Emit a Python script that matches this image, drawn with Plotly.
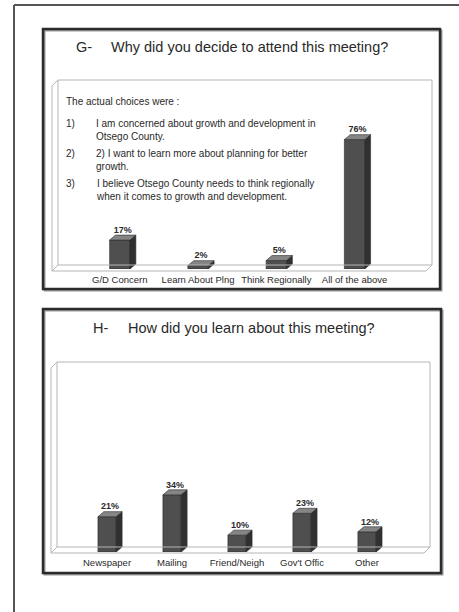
import plotly.graph_objects as go

# ---- data -----------------------------------------------------------------
g_categories = ["G/D Concern", "Learn About Plng", "Think Regionally", "All of the above"]
g_values = [17, 2, 5, 76]

h_categories = ["Newspaper", "Mailing", "Friend/Neigh", "Gov't Offic", "Other"]
h_values = [21, 34, 10, 23, 12]

g_label, g_question = "G-", "Why did you decide to attend this meeting?"
h_label, h_question = "H-", "How did you learn about this meeting?"

choices_header = "The actual choices were :"
choice_numbers = ["1)", "2)", "3)"]
choice_lines = [
    "I am concerned about growth and development in<br>Otsego County.",
    "2) I want to learn more about planning for better<br>growth.",
    "I believe Otsego County needs to think regionally<br>when it comes to growth and development.",
]

# ---- page geometry helpers (pixel -> paper) ------------------------------
W, H = 459, 612
FONT = "Liberation Sans, Arial, sans-serif"
TXT = "#2a2a2a"


def px(x):
    return x / W


def py(y):
    return 1 - y / H


FRONT = "#4f4f4f"
SIDE = "#303030"
TOP = "#858585"

fig = go.Figure()


def add_3d_bars(cats, vals, xa, ya, width, dx, dy):
    idx = list(range(len(cats)))
    fig.add_trace(go.Bar(
        x=idx, y=vals, width=width, xaxis=xa, yaxis=ya,
        marker=dict(color=FRONT, line=dict(color="#2a2a2a", width=0.6)),
        hoverinfo="skip", showlegend=False))
    tx, ty, sx, sy = [], [], [], []
    for i, v in zip(idx, vals):
        l, r = i - width / 2, i + width / 2
        tx += [l, r, r + dx, l + dx, l, None]
        ty += [v, v, v + dy, v + dy, v, None]
        sx += [r, r + dx, r + dx, r, r, None]
        sy += [0, dy, v + dy, v, 0, None]
    fig.add_trace(go.Scatter(x=sx, y=sy, fill="toself", fillcolor=SIDE, mode="lines",
                             line=dict(color="#2a2a2a", width=0.6), xaxis=xa, yaxis=ya,
                             hoverinfo="skip", showlegend=False))
    fig.add_trace(go.Scatter(x=tx, y=ty, fill="toself", fillcolor=TOP, mode="lines",
                             line=dict(color="#2a2a2a", width=0.6), xaxis=xa, yaxis=ya,
                             hoverinfo="skip", showlegend=False))
    fig.add_trace(go.Scatter(
        x=[i + dx / 2 for i in idx], y=[v + dy for v in vals],
        mode="text", text=[f"<b>{v}%</b>" for v in vals], textposition="top center",
        textfont=dict(family=FONT, size=9, color=TXT),
        xaxis=xa, yaxis=ya, hoverinfo="skip", showlegend=False, cliponaxis=False))


add_3d_bars(g_categories, g_values, "x", "y", 0.26, 0.075, 2.9)
add_3d_bars(h_categories, h_values, "x2", "y2", 0.28, 0.092, 3.0)

axis_common = dict(showgrid=False, zeroline=False, showline=False, ticks="")
tickfont = dict(family=FONT, size=9.5, color=TXT)
fig.update_layout(
    width=W, height=H, margin=dict(l=0, r=0, t=0, b=0),
    paper_bgcolor="white", plot_bgcolor="rgba(0,0,0,0)",
    xaxis=dict(domain=[px(58), px(432)], range=[-0.79, 3.99],
               tickvals=list(range(len(g_categories))), ticktext=g_categories,
               tickfont=tickfont, ticklabelstandoff=3, **axis_common),
    yaxis=dict(domain=[py(269), py(80)], range=[0, 111], showticklabels=False, **axis_common),
    xaxis2=dict(domain=[px(57), px(430)], range=[-0.77, 4.97], anchor="y2",
                tickvals=list(range(len(h_categories))), ticktext=h_categories,
                tickfont=tickfont, ticklabelstandoff=3, **axis_common),
    yaxis2=dict(domain=[py(552), py(362)], range=[0, 113], anchor="x2",
                showticklabels=False, **axis_common),
)

shapes = []
# page frame (left and top edges)
shapes.append(dict(type="line", xref="paper", yref="paper", x0=px(14), y0=py(5), x1=px(14), y1=0,
                   line=dict(color="#555", width=2)))
shapes.append(dict(type="line", xref="paper", yref="paper", x0=px(14), y0=py(5), x1=1, y1=py(5),
                   line=dict(color="#555", width=2)))


def chart_box(x0, y0, x1, y1):
    # shadow then border
    shapes.append(dict(type="rect", xref="paper", yref="paper",
                       x0=px(x0 + 1.5), y0=py(y1 + 1.5), x1=px(x1 + 1.5), y1=py(y0 + 1.5),
                       line=dict(color="#9a9a9a", width=2)))
    shapes.append(dict(type="rect", xref="paper", yref="paper",
                       x0=px(x0), y0=py(y1), x1=px(x1), y1=py(y0),
                       line=dict(color="#2b2b2b", width=2.5)))


def wall_frame(left, top, right, back_floor, front_floor, off):
    c = dict(color="#b5b5b5", width=1)
    segs = [
        (left, top, right, top),                                # back wall top
        (right, top, right, back_floor),                        # back wall right
        (left, back_floor, right, back_floor),                  # back floor edge
        (left, top, left - off, top + off),                     # top-left slant
        (left - off, top + off, left - off, front_floor),       # front left
        (left - off, front_floor, right - off, front_floor),    # front floor edge
        (right, back_floor, right - off, front_floor),          # right floor slant
        (left, back_floor, left - off, front_floor),            # left floor slant
        (left, top, left, back_floor),                          # back wall left
    ]
    for x0, y0, x1, y1 in segs:
        shapes.append(dict(type="line", xref="paper", yref="paper",
                           x0=px(x0), y0=py(y0), x1=px(x1), y1=py(y1), line=c))


chart_box(43, 29, 440, 289)
chart_box(43, 309, 441, 573)
wall_frame(58, 80, 432, 265, 271, 6)
wall_frame(57, 362, 430, 547, 553, 6)
fig.update_layout(shapes=shapes)


def label(text, x, y, size, yanchor="middle"):
    return dict(text=text, x=px(x), y=py(y), xref="paper", yref="paper",
                xanchor="left", yanchor=yanchor, align="left", showarrow=False,
                font=dict(family=FONT, size=size, color=TXT))


ann = [
    label(g_label, 74, 47, 14.5),
    label(g_question, 109, 47, 14.5),
    label(h_label, 91, 328, 14.5),
    label(h_question, 126, 328, 14.5),
    label(choices_header, 64, 102, 10),
]
for num, line, ytop in zip(choice_numbers, choice_lines, [116, 146, 176]):
    ann.append(label(num, 64, ytop, 10, "top"))
    ann.append(label(line, 94, ytop, 10, "top"))
fig.update_layout(annotations=ann)

fig.write_html("out.html")
